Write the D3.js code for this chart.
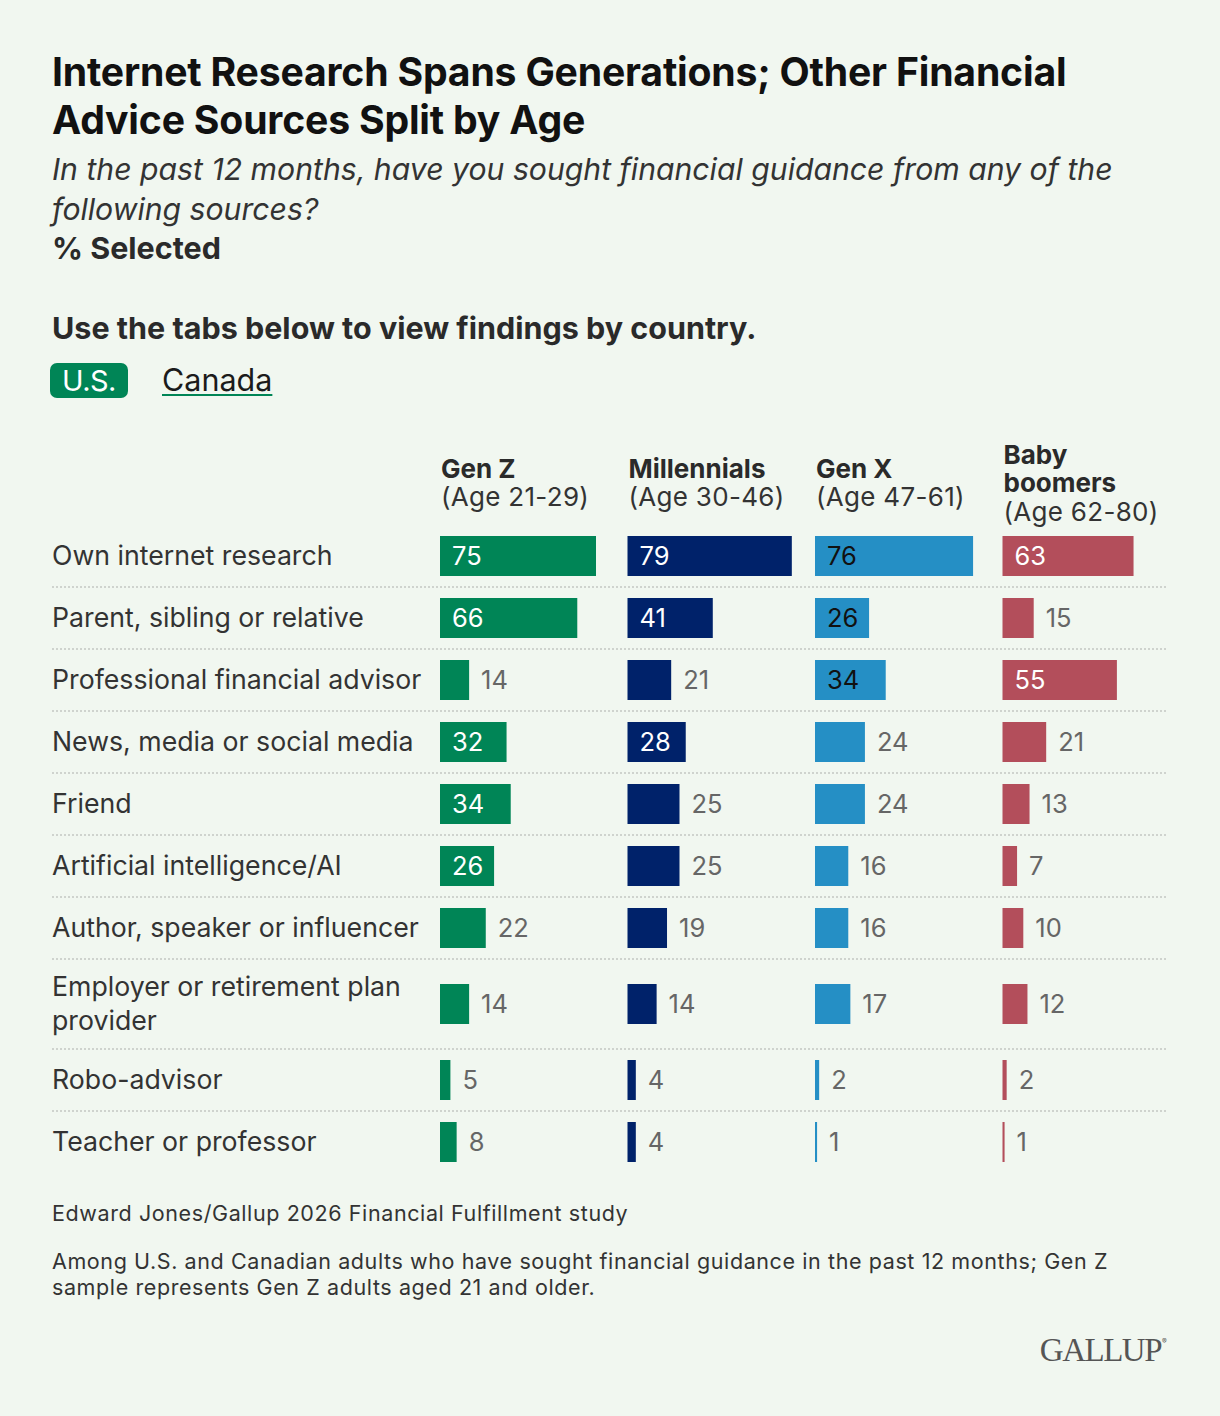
<!DOCTYPE html>
<html>
<head>
<meta charset="utf-8">
<script src="https://cdn.jsdelivr.net/npm/d3@7"></script>
<style>
  html, body { margin: 0; padding: 0; background: #f1f7f0; }
  svg { display: block; }
</style>
</head>
<body>
<svg id="chart" width="1220" height="1416"></svg>
<script>
const categories = [
  'Own internet research',
  'Parent, sibling or relative',
  'Professional financial advisor',
  'News, media or social media',
  'Friend',
  'Artificial intelligence/AI',
  'Author, speaker or influencer',
  'Employer or retirement plan provider',
  'Robo-advisor',
  'Teacher or professor'
]
const generations = ['Gen Z', 'Millennials', 'Gen X', 'Baby boomers']
const ageRanges = ['(Age 21-29)', '(Age 30-46)', '(Age 47-61)', '(Age 62-80)']
const genZ = [75, 66, 14, 32, 34, 26, 22, 14, 5, 8]
const millennials = [79, 41, 21, 28, 25, 25, 19, 14, 4, 4]
const genX = [76, 26, 34, 24, 24, 16, 16, 17, 2, 1]
const boomers = [63, 15, 55, 21, 13, 7, 10, 12, 2, 1]
const seriesValues = [genZ, millennials, genX, boomers]

const FONT = 'Inter, "Noto Sans", sans-serif'
const BAR_COLORS = ['#008556', '#00226a', '#258fc5', '#b34e5b']
const INSIDE_TEXT = ['#ffffff', '#ffffff', '#111111', '#ffffff']
const TEXT_BODY = '#333333'
const TEXT_VALUE = '#666666'
const LEFT = 52
const RIGHT = 1168
const BAR_H = 40
const ROW_PAD = 11
const LABEL_LINE = 34
const INSIDE_MIN = 26

const svg = d3.select('#chart')

// title block
const head = svg.append('g').attr('font-family', FONT)
const addLines = (g, lines, y0, lh, attrs) => {
  lines.forEach((t, i) => {
    const el = g.append('text').attr('x', LEFT).attr('y', y0 + i * lh).text(t)
    Object.entries(attrs).forEach(([k, v]) => el.attr(k, v))
  })
}
addLines(head, ['Internet Research Spans Generations; Other Financial', 'Advice Sources Split by Age'], 86, 48,
  { 'font-size': 39.2, 'font-weight': 700, fill: '#111111', 'letter-spacing': '-0.2px' })
addLines(head, ['In the past 12 months, have you sought financial guidance from any of the', 'following sources?'], 180, 40,
  { 'font-size': 30.2, 'font-style': 'italic', fill: TEXT_BODY })
addLines(head, ['% Selected'], 259, 0, { 'font-size': 30.5, 'font-weight': 700, fill: '#2a2a2a' })
addLines(head, ['Use the tabs below to view findings by country.'], 339, 0,
  { 'font-size': 30.5, 'font-weight': 700, fill: '#2a2a2a' })

// tabs
head.append('rect').attr('x', 50).attr('y', 363).attr('width', 78).attr('height', 35).attr('rx', 7)
  .attr('fill', '#008556')
head.append('text').attr('x', 89).attr('y', 391).attr('text-anchor', 'middle')
  .attr('font-size', 29).attr('fill', '#ffffff').attr('letter-spacing', '-0.5px').text('U.S.')
const canada = head.append('text').attr('x', 162).attr('y', 391)
  .attr('font-size', 30.5).attr('fill', '#1b1b1b').text('Canada')
const cw = canada.node().getComputedTextLength()
head.append('rect').attr('x', 162).attr('y', 394).attr('width', cw).attr('height', 2).attr('fill', '#008556')

// scales
const x = d3.scaleLinear().domain([0, 100]).range([0, 208])
const col = d3.scaleBand().domain(generations).range([440, 1190]).paddingInner(0)

// wrap helper
function wrapLines(text, maxW, size, weight) {
  const probe = svg.append('text').attr('font-family', FONT).attr('font-size', size).attr('font-weight', weight)
  const words = text.split(' ')
  const lines = []
  let cur = ''
  words.forEach(w => {
    const test = cur ? `${cur} ${w}` : w
    probe.text(test)
    if (probe.node().getComputedTextLength() > maxW && cur) {
      lines.push(cur)
      cur = w
    } else cur = test
  })
  lines.push(cur)
  probe.remove()
  return lines
}

// column headers (vertically centred block)
const hdr = svg.append('g').attr('font-family', FONT)
generations.forEach((g, i) => {
  const nameLines = wrapLines(g, 160, 26, 700)
  const lines = nameLines.map(t => ({ t, bold: true })).concat([{ t: ageRanges[i], bold: false }])
  const lh = 28.5
  const centre = 483
  const y0 = centre - ((lines.length - 1) * lh) / 2 + 9
  lines.forEach((l, j) => {
    hdr.append('text')
      .attr('x', col(g) + 1)
      .attr('y', y0 + j * lh)
      .attr('font-size', 26)
      .attr('font-weight', l.bold ? 700 : 400)
      .attr('fill', l.bold ? '#2a2a2a' : '#333333')
      .attr('letter-spacing', l.bold ? '0px' : '0.3px')
      .text(l.t)
  })
})

// rows
const rows = categories.map(c => ({ label: c, lines: wrapLines(c, 395, 26.7, 400) }))
let yTop = 525
rows.forEach((r, i) => {
  r.index = i
  r.height = Math.max(BAR_H + ROW_PAD * 2, r.lines.length * LABEL_LINE + 22)
  r.top = yTop
  r.mid = yTop + r.height / 2
  yTop += r.height
})

const rowG = svg.append('g').attr('font-family', FONT)
  .selectAll('g.row')
  .data(rows)
  .join('g')
  .attr('class', 'row')

rowG.filter(d => d.index < rows.length - 1)
  .append('line')
  .attr('x1', LEFT).attr('x2', RIGHT)
  .attr('y1', d => d.top + d.height).attr('y2', d => d.top + d.height)
  .attr('stroke', '#cfd3ce').attr('stroke-width', 2).attr('stroke-dasharray', '2 2')

rowG.each(function (d) {
  const g = d3.select(this)
  const t = g.append('text').attr('font-size', 26.7).attr('fill', TEXT_BODY)
  const n = d.lines.length
  d.lines.forEach((line, j) => {
    t.append('tspan')
      .attr('x', LEFT)
      .attr('y', d.mid + (j - (n - 1) / 2) * LABEL_LINE)
      .attr('dy', '0.35em')
      .text(line)
  })
})

const cells = rowG.selectAll('g.cell')
  .data(d => generations.map((g, k) => ({ gen: g, k, v: seriesValues[k][d.index], mid: d.mid })))
  .join('g')
  .attr('class', 'cell')

cells.append('rect')
  .attr('x', d => col(d.gen))
  .attr('y', d => d.mid - BAR_H / 2)
  .attr('width', d => x(d.v))
  .attr('height', BAR_H)
  .attr('fill', d => BAR_COLORS[d.k])

cells.append('text')
  .attr('x', d => d.v >= INSIDE_MIN ? col(d.gen) + 12 : col(d.gen) + x(d.v) + 12)
  .attr('y', d => d.mid)
  .attr('dy', '0.35em')
  .attr('font-size', 25.5)
  .attr('fill', d => d.v >= INSIDE_MIN ? INSIDE_TEXT[d.k] : TEXT_VALUE)
  .text(d => d.v)

// footer
const foot = svg.append('g').attr('font-family', FONT).attr('fill', TEXT_BODY)
addLines(foot, ['Edward Jones/Gallup 2026 Financial Fulfillment study'], 1221, 0,
  { 'font-size': 21.5, 'letter-spacing': '0.6px' })
addLines(foot, ['Among U.S. and Canadian adults who have sought financial guidance in the past 12 months; Gen Z',
  'sample represents Gen Z adults aged 21 and older.'], 1269, 25.5,
  { 'font-size': 21.5, 'letter-spacing': '0.6px' })

svg.append('text')
  .attr('x', RIGHT - 7).attr('y', 1361)
  .attr('text-anchor', 'end')
  .attr('font-family', '"Liberation Serif", "DejaVu Serif", serif')
  .attr('font-size', 33)
  .attr('fill', '#555555')
  .attr('letter-spacing', '-1.5px')
  .text('GALLUP')
svg.append('text')
  .attr('x', RIGHT - 6).attr('y', 1344)
  .attr('font-family', FONT).attr('font-size', 7).attr('fill', '#555555')
  .text('®')
</script>
</body>
</html>
